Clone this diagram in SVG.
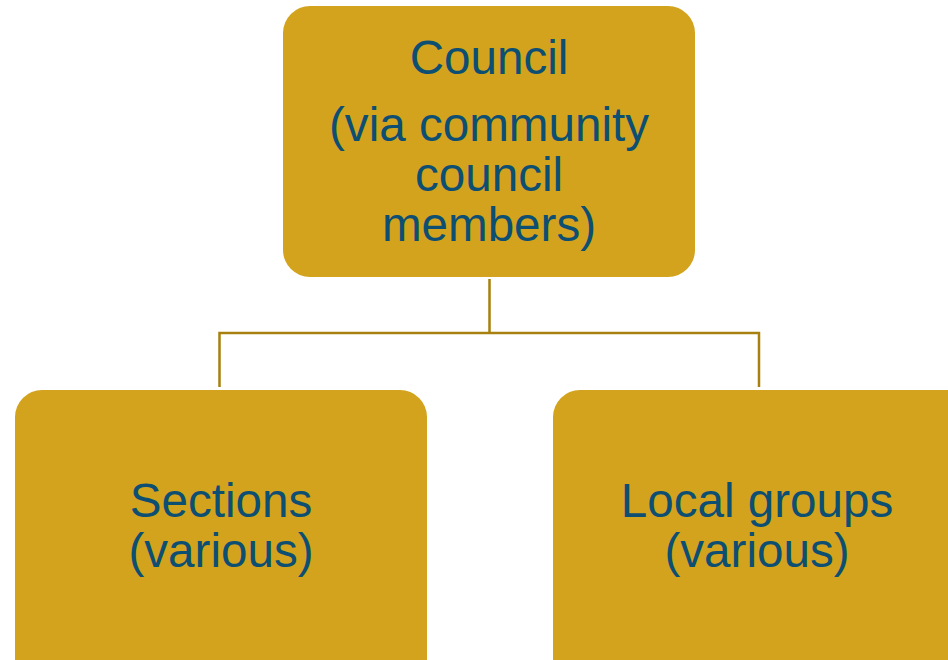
<svg xmlns="http://www.w3.org/2000/svg" width="948" height="660" viewBox="0 0 948 660">
<style>
.box{fill:#D4A31D;}
.lbl{font-family:"Liberation Sans",Arial,sans-serif;font-size:47.6px;fill:#0C4F72;text-anchor:middle;}
.conn{fill:none;stroke:#A8800F;stroke-width:2.5;}
</style>
<rect width="948" height="660" fill="#FFFFFF"/>
<g id="connectors">
<path class="conn" d="M489.5 279 V333 M219.5 387 V333 H759 V387"/>
</g>
<g id="council">
<rect class="box" x="283" y="6" width="412" height="271" rx="27" ry="27"/>
<text class="lbl" x="489" y="74">Council</text>
<text class="lbl" x="489" y="141">(via community</text>
<text class="lbl" x="489" y="191">council</text>
<text class="lbl" x="489" y="241">members)</text>
</g>
<g id="sections">
<rect class="box" x="15" y="390" width="412" height="300" rx="27" ry="27"/>
<text class="lbl" x="221" y="517">Sections</text>
<text class="lbl" x="221" y="567">(various)</text>
</g>
<g id="local-groups">
<rect class="box" x="553" y="390" width="420" height="300" rx="27" ry="27"/>
<text class="lbl" x="757" y="517">Local groups</text>
<text class="lbl" x="757" y="567">(various)</text>
</g>
</svg>
